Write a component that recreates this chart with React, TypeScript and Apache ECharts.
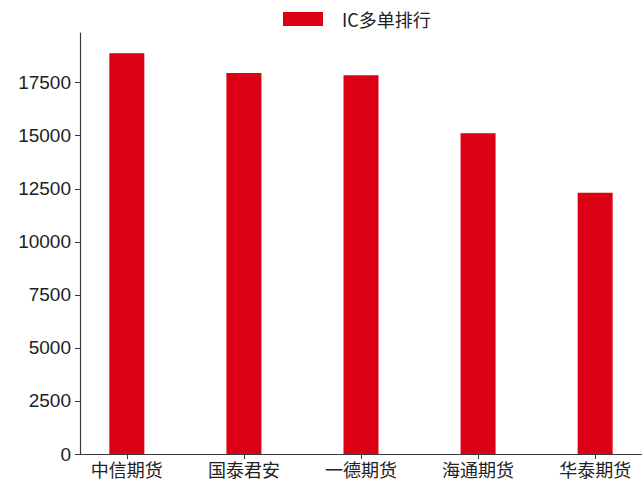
import React, { useEffect, useRef } from "react";
import * as echarts from "echarts";

const categories = ["中信期货", "国泰君安", "一德期货", "海通期货", "华泰期货"];
const values = [18890, 17950, 17850, 15110, 12310];
const yTicks = [0, 2500, 5000, 7500, 10000, 12500, 15000, 17500];
const seriesName = "IC多单排行";

export default function App() {
  const ref = useRef<HTMLDivElement>(null);
  useEffect(() => {
    document.body.style.margin = "0";
    if (!ref.current) return;
    const chart = echarts.init(ref.current, null, { renderer: "svg" });
    const axisColor = "#3a3a3a";
    chart.setOption({
      animation: false,
      backgroundColor: "#ffffff",
      legend: {
        data: [{ name: seriesName, icon: "rect" }],
        left: 283,
        top: 10,
        padding: 0,
        itemWidth: 40,
        itemHeight: 14,
        itemGap: 10,
        textStyle: {
          fontFamily: "Noto Sans CJK SC",
          fontSize: 18,
          color: "#222",
          padding: [0, 0, 0, 14],
        },
      },
      grid: { left: 80, top: 33, width: 566, bottom: 32, containLabel: false },
      xAxis: {
        type: "value",
        min: -0.4,
        max: 4.4,
        splitLine: { show: false },
        axisLine: { show: true, onZero: false, lineStyle: { color: axisColor, width: 1.2 } },
        axisTick: {
          show: true,
          length: 5,
          customValues: categories.map((_, i) => i),
          lineStyle: { color: axisColor },
        },
        axisLabel: {
          customValues: categories.map((_, i) => i),
          formatter: (v: number) => categories[Math.round(v)] ?? "",
          fontFamily: "Noto Sans CJK SC",
          fontSize: 18,
          color: "#222",
          margin: 6,
        },
      },
      yAxis: {
        type: "value",
        min: 0,
        max: 19840,
        splitLine: { show: false },
        axisLine: { show: true, onZero: false, lineStyle: { color: axisColor, width: 1.2 } },
        axisTick: {
          show: true,
          length: 5,
          customValues: yTicks,
          lineStyle: { color: axisColor },
        },
        axisLabel: {
          customValues: yTicks,
          formatter: (v: number) => String(v),
          fontFamily: "Liberation Sans, Arial, sans-serif",
          fontSize: 19,
          color: "#222",
          margin: 9,
        },
      },
      series: [
        {
          name: seriesName,
          type: "bar",
          barWidth: 35,
          itemStyle: { color: "#DC0014" },
          data: values.map((v, i) => [i, v]),
        },
      ],
    });
    return () => chart.dispose();
  }, []);
  return <div ref={ref} style={{ width: 642, height: 486 }} />;
}
